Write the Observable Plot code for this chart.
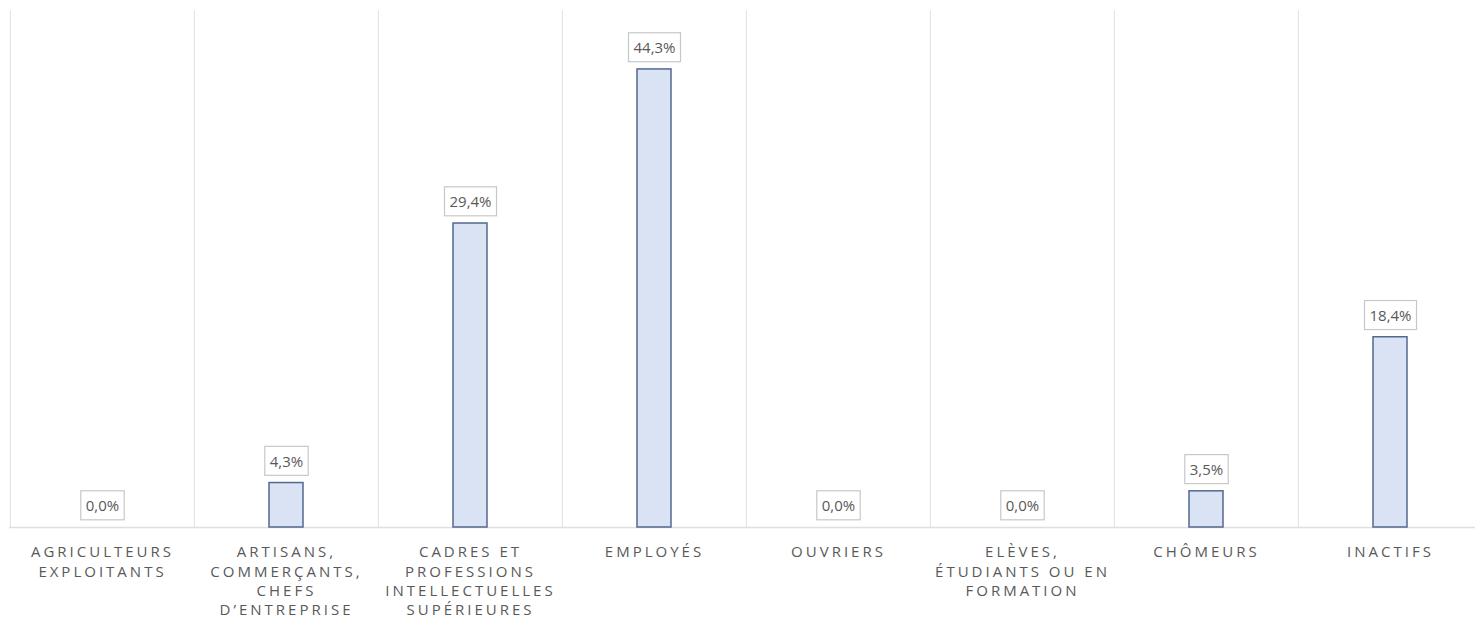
<!DOCTYPE html>
<html>
<head>
<meta charset="utf-8">
<script src="https://cdn.jsdelivr.net/npm/d3@7"></script>
<script src="https://cdn.jsdelivr.net/npm/@observablehq/plot@0.6"></script>
<style>
  html, body { margin: 0; padding: 0; background: #fff; }
  #chart svg { display: block; }
  .cat text { letter-spacing: 3px; }
</style>
</head>
<body>
<div id="chart"></div>
<script>
const categories = [
  "AGRICULTEURS\nEXPLOITANTS",
  "ARTISANS,\nCOMMERÇANTS,\nCHEFS\nD’ENTREPRISE",
  "CADRES ET\nPROFESSIONS\nINTELLECTUELLES\nSUPÉRIEURES",
  "EMPLOYÉS",
  "OUVRIERS",
  "ELÈVES,\nÉTUDIANTS OU EN\nFORMATION",
  "CHÔMEURS",
  "INACTIFS"
];
const values = [0.0, 4.3, 29.4, 44.3, 0.0, 0.0, 3.5, 18.4];

const data = categories.map((c, i) => ({category: c, value: values[i]}));
const fmt = v => v.toFixed(1).replace(".", ",") + "%";

const xRange = [9, 1483];
const band = (xRange[1] - xRange[0]) / categories.length;

const chart = Plot.plot({
  width: 1475,
  height: 628,
  marginTop: 10,
  marginBottom: 101,
  marginLeft: 9,
  marginRight: 0,
  style: {fontFamily: "'Open Sans', sans-serif", color: "#595959", background: "#fff"},
  x: {domain: categories, range: xRange, padding: 0, axis: null},
  y: {domain: [0, 50], range: [527, 10], axis: null},
  marks: [
    Plot.ruleX(data, {x: "category", dx: -band / 2, y1: 0, y2: 50, stroke: "#e6e6e6", strokeWidth: 1.2}),
    Plot.ruleY([0], {stroke: "#e0e0e0", strokeWidth: 1.5}),
    Plot.barY(data, {x: "category", y: "value", fill: "#dae3f3", stroke: "#53688f", strokeWidth: 1.5, insetLeft: 75, insetRight: 75}),
    Plot.text(data, {x: "category", y: "value", text: d => fmt(d.value), dy: -21, lineAnchor: "middle", fontSize: 15, fill: "#595959", className: "vlabel"}),
    Plot.text(data, {x: "category", y: 0, text: "category", dy: 16, lineAnchor: "top", lineHeight: 1.29, fontSize: 15, fill: "#595959", className: "cat"})
  ]
});
document.getElementById("chart").appendChild(chart);

// draw framed boxes behind the value labels, sized from the rendered text
d3.select(chart).selectAll("g.vlabel text").each(function() {
  const b = this.getBBox();
  const t = this.getAttribute("transform");
  const cy = b.y + b.height / 2;
  d3.select(this.parentNode).insert("rect", () => this)
    .attr("transform", t)
    .attr("x", b.x - 5)
    .attr("y", cy - 14.5)
    .attr("width", b.width + 10)
    .attr("height", 29)
    .attr("fill", "#fff")
    .attr("stroke", "#c8c8c8")
    .attr("stroke-width", 1.2);
});
</script>
</body>
</html>
